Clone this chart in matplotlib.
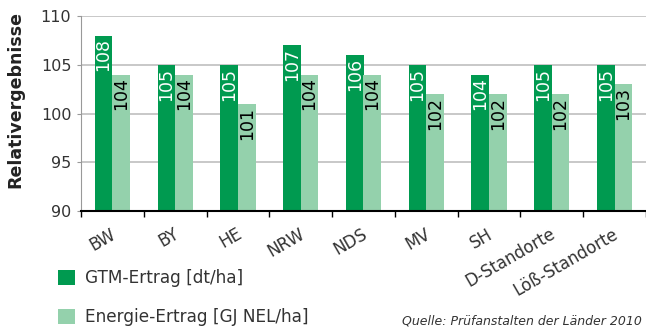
import numpy as np
import matplotlib
matplotlib.use("Agg")
import matplotlib.pyplot as plt
import matplotlib.transforms as mtransforms

# data
regions = ["BW", "BY", "HE", "NRW", "NDS", "MV", "SH", "D-Standorte", "Löß-Standorte"]
gtm_ertrag = [108, 105, 105, 107, 106, 105, 104, 105, 105]
energie_ertrag = [104, 104, 101, 104, 104, 102, 102, 102, 103]
series_names = ["GTM-Ertrag [dt/ha]", "Energie-Ertrag [GJ NEL/ha]"]
source = "Quelle: Prüfanstalten der Länder 2010"

dark_green = "#009a50"
light_green = "#94d1ac"
text_col = "#333333"

plt.rcParams["font.family"] = ["DejaVu Sans"]

W, H = 646, 332
fig = plt.figure(figsize=(W / 100, H / 100), dpi=100)
ax = fig.add_axes([81 / W, (H - 211) / H, (646 - 81) / W, (211 - 16) / H])

x = np.arange(len(regions))
bw = 0.28
b1 = ax.bar(x - bw / 2, gtm_ertrag, bw, color=dark_green, zorder=3, label=series_names[0])
b2 = ax.bar(x + bw / 2, energie_ertrag, bw, color=light_green, zorder=3, label=series_names[1])

# value labels inside the bars, reading upwards
for bars, vals, col in [(b1, gtm_ertrag, "white"), (b2, energie_ertrag, "black")]:
    for rect, v in zip(bars, vals):
        ax.annotate(str(v), (rect.get_x() + rect.get_width() / 2, v),
                    xytext=(0, -2), textcoords="offset points",
                    rotation=90, ha="center", va="top", color=col,
                    fontsize=12.5, zorder=4)

ax.set_ylim(90, 110)
ax.set_xlim(-0.5, len(regions) - 0.5)
ax.set_yticks([90, 95, 100, 105, 110])
ax.yaxis.grid(True, color="#c4c4c4", lw=1.3)
ax.set_axisbelow(True)
ax.tick_params(axis="y", length=3, color="#999999", labelsize=11.5, labelcolor=text_col, pad=4)

ax.set_xticks(x)
ax.set_xticklabels(regions, rotation=30, ha="right", rotation_mode="anchor",
                   fontsize=12, color=text_col)
ax.set_xticks(np.arange(-0.5, len(regions)), minor=True)
ax.tick_params(axis="x", which="major", length=0, pad=10)
ax.tick_params(axis="x", which="minor", length=4.5, color="black", width=1)
shift = mtransforms.ScaledTranslation(-2 / 100, 0, fig.dpi_scale_trans)
for lbl in ax.get_xticklabels():
    lbl.set_transform(lbl.get_transform() + shift)

for side in ["top", "right"]:
    ax.spines[side].set_visible(False)
ax.spines["left"].set_color("#999999")
ax.spines["bottom"].set_color("black")
ax.spines["bottom"].set_linewidth(1.5)
ax.spines["bottom"].set_zorder(5)

fig.text(15 / W, 1 - 100 / H, "Relativergebnisse", rotation=90, ha="center", va="center",
         fontsize=12.5, fontweight="bold", color="#222222")

fig.legend(handles=[b1, b2], labels=series_names, loc="upper left",
           bbox_to_anchor=(58 / W, 1 - 269 / H), frameon=False, fontsize=12.2,
           handlelength=1.0, handleheight=1.0, handletextpad=0.6,
           labelspacing=1.25, borderpad=0, borderaxespad=0, labelcolor=text_col)

fig.text(402 / W, 1 - 325 / H, source, fontstyle="italic", fontsize=9,
         color=text_col, ha="left", va="baseline")

fig.savefig("out.png", dpi=100)
